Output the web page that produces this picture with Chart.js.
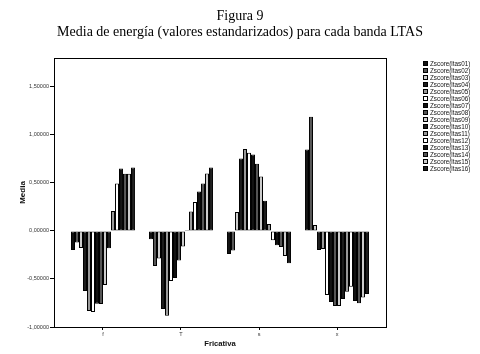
<!DOCTYPE html>
<html>
<head>
<meta charset="utf-8">
<script src="https://cdn.jsdelivr.net/npm/chart.js@4.4.1/dist/chart.umd.min.js"></script>
<style>
  html, body { margin: 0; padding: 0; background: #fff; }
  #wrap { position: relative; width: 480px; height: 354px; overflow: hidden; }
  #legend { position: absolute; left: 423px; top: 59.5px; font-family: 'Liberation Sans', Arial, sans-serif; font-size: 6.3px; color: #111; }
  #legend .row { height: 7.05px; line-height: 7.05px; white-space: nowrap; display: flex; align-items: center; }
  #legend .box { width: 3px; height: 3px; border: 1px solid #000; margin-right: 2px; flex: none; }
</style>
</head>
<body>
<div id="wrap">
  <canvas id="c" width="480" height="354"></canvas>
  <div id="legend"></div>
</div>
<script>
const categories = ['f', 'T', 's', 'x'];
const seriesNames = ['Zscore(ltas01)','Zscore(ltas02)','Zscore(ltas03)','Zscore(ltas04)','Zscore(ltas05)','Zscore(ltas06)','Zscore(ltas07)','Zscore(ltas08)','Zscore(ltas09)','Zscore(ltas10)','Zscore(ltas11)','Zscore(ltas12)','Zscore(ltas13)','Zscore(ltas14)','Zscore(ltas15)','Zscore(ltas16)'];
const seriesColors = ['#111111','#555555','#cccccc','#1c1c1c','#999999','#ffffff','#111111','#555555','#cccccc','#1c1c1c','#999999','#ffffff','#111111','#555555','#cccccc','#1c1c1c'];
// values per series: [f, T, s, x]
const ltas01 = [-0.198, -0.087, -0.240,  0.847];
const ltas02 = [-0.120, -0.365, -0.205,  1.188];
const ltas03 = [-0.177, -0.288,  0.198,  0.063];
const ltas04 = [-0.625, -0.813,  0.753, -0.198];
const ltas05 = [-0.833, -0.882,  0.854, -0.188];
const ltas06 = [-0.844, -0.521,  0.813, -0.667];
const ltas07 = [-0.757, -0.490,  0.795, -0.740];
const ltas08 = [-0.760, -0.309,  0.698, -0.781];
const ltas09 = [-0.563, -0.163,  0.566, -0.781];
const ltas10 = [-0.180,  0.010,  0.313, -0.708];
const ltas11 = [ 0.208,  0.201,  0.073, -0.632];
const ltas12 = [ 0.493,  0.302, -0.097, -0.580];
const ltas13 = [ 0.649,  0.410, -0.149, -0.729];
const ltas14 = [ 0.594,  0.493, -0.167, -0.753];
const ltas15 = [ 0.594,  0.597, -0.260, -0.694];
const ltas16 = [ 0.660,  0.660, -0.337, -0.656];
const yTickValues = [-1, -0.5, 0, 0.5, 1, 1.5];

const seriesValues = [ltas01,ltas02,ltas03,ltas04,ltas05,ltas06,ltas07,ltas08,ltas09,ltas10,ltas11,ltas12,ltas13,ltas14,ltas15,ltas16];

const datasets = seriesNames.map((name, i) => ({
  label: name,
  data: seriesValues[i].map((v, j) => ({ x: j, y: v })),
  backgroundColor: seriesColors[i],
  borderColor: '#000',
  borderWidth: 1,
  borderSkipped: false,
  barPercentage: 1,
  categoryPercentage: 0.82
}));

const topBorder = {
  id: 'topBorder',
  afterDatasetsDraw(chart) {
    const a = chart.chartArea, ctx = chart.ctx;
    ctx.save();
    ctx.strokeStyle = '#000';
    ctx.lineWidth = 1;
    ctx.beginPath();
    ctx.moveTo(Math.round(a.left) + 0.5, Math.round(a.top) + 0.5);
    ctx.lineTo(Math.round(a.right) + 0.5, Math.round(a.top) + 0.5);
    ctx.stroke();
    ctx.restore();
  }
};

const tickFont = { family: "'Liberation Sans', Arial, sans-serif", size: 5.5 };

const chart = new Chart(document.getElementById('c'), {
  type: 'bar',
  data: { datasets },
  plugins: [topBorder],
  options: {
    responsive: false,
    animation: false,
    devicePixelRatio: 1,
    layout: { padding: 0 },
    plugins: {
      legend: { display: false },
      tooltip: { enabled: false },
      title: {
        display: true,
        text: 'Figura 9',
        color: '#000',
        font: { family: "'Liberation Serif', 'Times New Roman', serif", size: 14, weight: 'normal', lineHeight: 1.1 },
        padding: { top: 8.3, bottom: 0 }
      },
      subtitle: {
        display: true,
        text: 'Media de energía (valores estandarizados) para cada banda LTAS',
        color: '#000',
        font: { family: "'Liberation Serif', 'Times New Roman', serif", size: 14, weight: 'normal', lineHeight: 1.2 },
        padding: { top: 0, bottom: 17.5 }
      }
    },
    scales: {
      x: {
        type: 'linear',
        position: 'bottom',
        min: -0.628,
        max: 3.628,
        offset: false,
        afterBuildTicks(scale) { scale.ticks = categories.map((c, i) => ({ value: i })); },
        afterFit(scale) { scale.height = 27; },
        ticks: {
          autoSkip: false,
          maxRotation: 0,
          padding: 1,
          color: '#333',
          font: tickFont,
          callback: (v) => categories[v]
        },
        grid: { offset: false, drawOnChartArea: false, drawTicks: true, tickLength: 3, color: '#000' },
        border: { display: true, color: '#000', width: 1 },
        title: {
          display: true,
          text: 'Fricativa',
          color: '#111',
          font: { family: "'Liberation Sans', Arial, sans-serif", size: 7.7, weight: 'bold' },
          padding: { top: 0, bottom: 5.2 }
        }
      },
      y: {
        type: 'linear',
        position: 'left',
        min: -1,
        max: 1.8,
        afterBuildTicks(scale) { scale.ticks = yTickValues.map(v => ({ value: v })); },
        afterFit(scale) { scale.width = 54; },
        ticks: {
          padding: 1,
          color: '#333',
          font: tickFont,
          callback: (v) => v.toFixed(5).replace('.', ',')
        },
        grid: { drawOnChartArea: false, drawTicks: true, tickLength: 4, color: '#000' },
        border: { display: true, color: '#000', width: 1 },
        title: {
          display: true,
          text: 'Media',
          color: '#111',
          font: { family: "'Liberation Sans', Arial, sans-serif", size: 8, weight: 'bold' },
          padding: { top: 17.5, bottom: 0 }
        }
      },
      yRight: {
        type: 'linear',
        position: 'right',
        display: true,
        afterFit(scale) { scale.width = 94; },
        ticks: { display: false },
        grid: { display: false, drawTicks: false },
        border: { display: true, color: '#000', width: 1 }
      }
    }
  }
});

// HTML legend built from the chart's datasets
const legendEl = document.getElementById('legend');
chart.data.datasets.forEach(ds => {
  const row = document.createElement('div');
  row.className = 'row';
  const box = document.createElement('span');
  box.className = 'box';
  box.style.background = ds.backgroundColor;
  const txt = document.createElement('span');
  txt.textContent = ds.label;
  row.appendChild(box);
  row.appendChild(txt);
  legendEl.appendChild(row);
});
</script>
</body>
</html>
